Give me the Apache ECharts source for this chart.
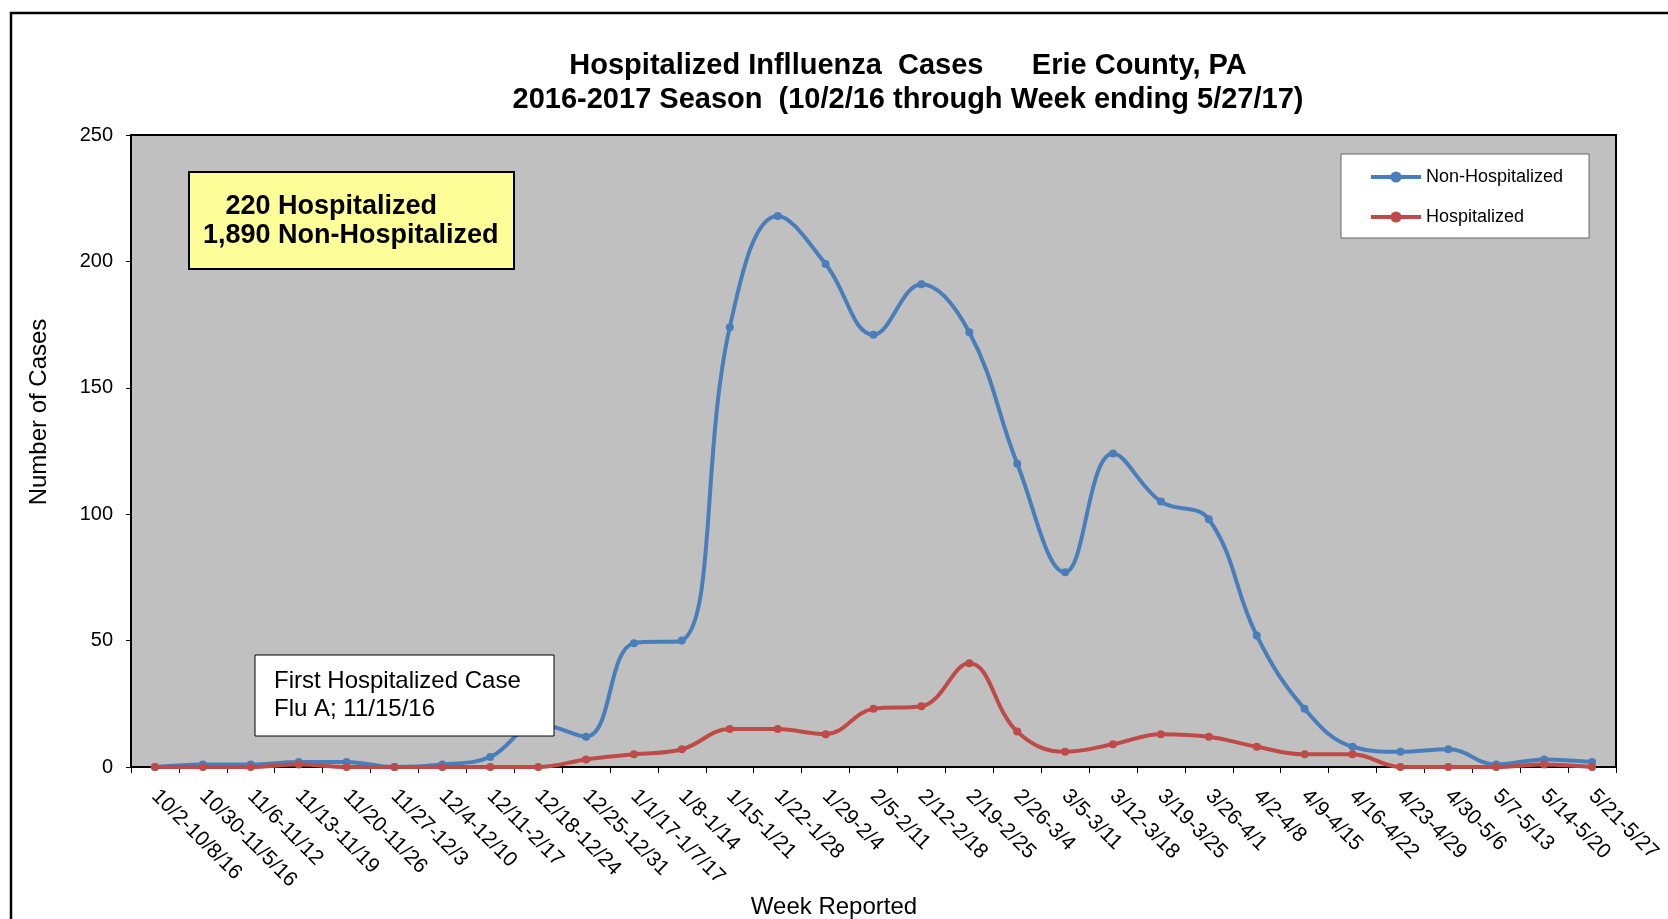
<!DOCTYPE html>
<html>
<head>
<meta charset="utf-8">
<script src="https://cdn.jsdelivr.net/npm/echarts@6/dist/echarts.min.js"></script>
<style>
html,body{margin:0;padding:0;background:#fff;}
#chart{width:1668px;height:919px;}
</style>
</head>
<body>
<div id="chart"></div>
<script>
const weeks = ['10/2-10/8/16','10/30-11/5/16','11/6-11/12','11/13-11/19','11/20-11/26','11/27-12/3','12/4-12/10','12/11-2/17','12/18-12/24','12/25-12/31','1/1/17-1/7/17','1/8-1/14','1/15-1/21','1/22-1/28','1/29-2/4','2/5-2/11','2/12-2/18','2/19-2/25','2/26-3/4','3/5-3/11','3/12-3/18','3/19-3/25','3/26-4/1','4/2-4/8','4/9-4/15','4/16-4/22','4/23-4/29','4/30-5/6','5/7-5/13','5/14-5/20','5/21-5/27'];
const nonHospitalized = [0,1,1,2,2,0,1,4,17,12,49,50,174,218,199,171,191,172,120,77,124,105,98,52,23,8,6,7,1,3,2];
const hospitalized = [0,0,0,1,0,0,0,0,0,3,5,7,15,15,13,23,24,41,14,6,9,13,12,8,5,5,0,0,0,1,0];
const yTicks = {min:0, max:250, interval:50};
const titleLines = ['Hospitalized Inflluenza  Cases      Erie County, PA','2016-2017 Season  (10/2/16 through Week ending 5/27/17)'];
const summaryLines = ['   220 Hospitalized','1,890 Non-Hospitalized'];
const noteLines = ['First Hospitalized Case','Flu A; 11/15/16'];
const xAxisTitle = 'Week Reported';
const yAxisTitle = 'Number of Cases';

const BLUE = '#4A7EBB', RED = '#BE4B48';
const chart = echarts.init(document.getElementById('chart'));
const ff = '"Liberation Sans", Arial, sans-serif';

chart.setOption({
  animation:false,
  backgroundColor:'#fff',
  textStyle:{fontFamily:ff},
  grid:{left:131, top:135, width:1485, height:632, show:true, backgroundColor:'#C0C0C0', borderColor:'#000', borderWidth:2, containLabel:false},
  legend:{
    orient:'vertical', left:1341, top:154,
    backgroundColor:'#fff', borderColor:'#666', borderWidth:1,
    padding:[14,26,12,28], itemWidth:50, itemHeight:14, itemGap:22, itemTextGap:4,
    lineStyle:{width:4},
    textStyle:{fontSize:18, color:'#000', fontFamily:ff},
    data:['Non-Hospitalized','Hospitalized']
  },
  xAxis:{
    type:'category', data:weeks, boundaryGap:true,
    axisLine:{show:true, lineStyle:{color:'#000', width:2}},
    axisTick:{show:true, interval:0, length:6, lineStyle:{color:'#000', width:1}},
    axisLabel:{interval:0, rotate:-45, fontSize:21, color:'#000', margin:26, fontFamily:ff},
    splitLine:{show:false}
  },
  yAxis:{
    type:'value', min:yTicks.min, max:yTicks.max, interval:yTicks.interval,
    axisLine:{show:true, lineStyle:{color:'#000', width:2}},
    axisTick:{show:true, length:5, lineStyle:{color:'#000'}},
    axisLabel:{fontSize:20, color:'#000', margin:18, fontFamily:ff},
    splitLine:{show:false}
  },
  series:[
    {name:'Non-Hospitalized', type:'line', data:nonHospitalized, smooth:0.4, symbol:'circle', symbolSize:8,
     lineStyle:{color:BLUE, width:4}, itemStyle:{color:BLUE}, z:3},
    {name:'Hospitalized', type:'line', data:hospitalized, smooth:0.4, symbol:'circle', symbolSize:8,
     lineStyle:{color:RED, width:4}, itemStyle:{color:RED}, z:4}
  ],
  graphic:[
    {type:'rect', shape:{x:11, y:13, width:1700, height:1000}, style:{fill:'none', stroke:'#000', lineWidth:2.5}, silent:true, z:0},
    {type:'text', x:908, y:66, style:{text:titleLines[0], font:'bold 29px '+ff, fill:'#000', textAlign:'center', textVerticalAlign:'middle'}},
    {type:'text', x:908, y:100, style:{text:titleLines[1], font:'bold 29px '+ff, fill:'#000', textAlign:'center', textVerticalAlign:'middle'}},
    {type:'text', x:834, y:907, style:{text:xAxisTitle, font:'24px '+ff, fill:'#000', textAlign:'center', textVerticalAlign:'middle'}},
    {type:'text', x:39, y:412, rotation:Math.PI/2, style:{text:yAxisTitle, font:'24px '+ff, fill:'#000', textAlign:'center', textVerticalAlign:'middle'}},
    {type:'rect', shape:{x:189, y:172, width:325, height:97}, style:{fill:'#FFFF99', stroke:'#000', lineWidth:2}, z:10},
    {type:'text', x:203, y:207, style:{text:summaryLines[0], font:'bold 27px '+ff, fill:'#000', textVerticalAlign:'middle'}, z:11},
    {type:'text', x:203, y:236, style:{text:summaryLines[1], font:'bold 27px '+ff, fill:'#000', textVerticalAlign:'middle'}, z:11},
    {type:'rect', shape:{x:255, y:655, width:299, height:81}, style:{fill:'#fff', stroke:'#000', lineWidth:1}, z:10},
    {type:'text', x:274, y:681, style:{text:noteLines[0], font:'24px '+ff, fill:'#000', textVerticalAlign:'middle'}, z:11},
    {type:'text', x:274, y:709, style:{text:noteLines[1], font:'24px '+ff, fill:'#000', textVerticalAlign:'middle'}, z:11}
  ]
});
</script>
</body>
</html>
